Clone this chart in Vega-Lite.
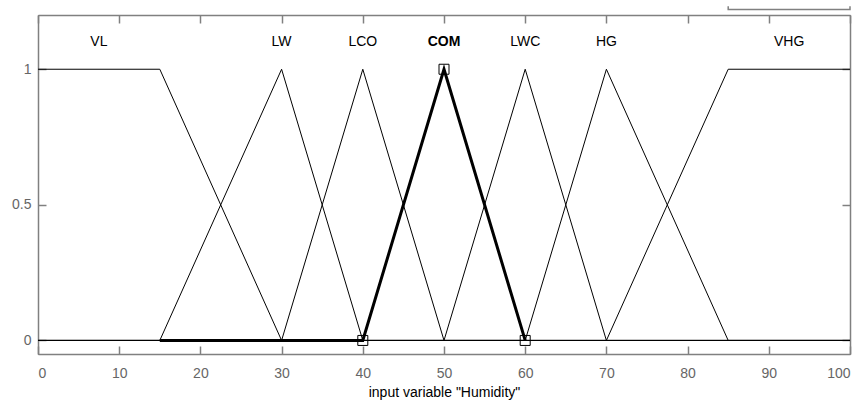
{
  "$schema": "https://vega.github.io/schema/vega-lite/v6.json",
  "width": 812,
  "height": 339,
  "autosize": {"type": "none"},
  "padding": {"left": 38, "top": 15, "right": 12, "bottom": 47},
  "background": "white",
  "config": {
    "view": {"stroke": "#808080", "strokeWidth": 1},
    "font": "Liberation Sans",
    "axis": {
      "domainColor": "#808080",
      "tickColor": "#808080",
      "labelColor": "#666666",
      "labelFont": "Liberation Sans",
      "labelFontSize": 14,
      "titleFont": "Liberation Sans",
      "titleFontSize": 14,
      "titleFontWeight": "normal",
      "titleColor": "#000000",
      "grid": false,
      "tickSize": -8,
      "domainWidth": 1.5,
      "tickWidth": 1.5
    }
  },
  "datasets": {
    "mf": [
      {"mf": "VL", "o": 0, "x": 0, "mu": 1},
      {"mf": "VL", "o": 1, "x": 15, "mu": 1},
      {"mf": "VL", "o": 2, "x": 30, "mu": 0},
      {"mf": "VL", "o": 3, "x": 100, "mu": 0},
      {"mf": "LW", "o": 0, "x": 0, "mu": 0},
      {"mf": "LW", "o": 1, "x": 15, "mu": 0},
      {"mf": "LW", "o": 2, "x": 30, "mu": 1},
      {"mf": "LW", "o": 3, "x": 40, "mu": 0},
      {"mf": "LW", "o": 4, "x": 100, "mu": 0},
      {"mf": "LCO", "o": 0, "x": 0, "mu": 0},
      {"mf": "LCO", "o": 1, "x": 30, "mu": 0},
      {"mf": "LCO", "o": 2, "x": 40, "mu": 1},
      {"mf": "LCO", "o": 3, "x": 50, "mu": 0},
      {"mf": "LCO", "o": 4, "x": 100, "mu": 0},
      {"mf": "LWC", "o": 0, "x": 0, "mu": 0},
      {"mf": "LWC", "o": 1, "x": 50, "mu": 0},
      {"mf": "LWC", "o": 2, "x": 60, "mu": 1},
      {"mf": "LWC", "o": 3, "x": 70, "mu": 0},
      {"mf": "LWC", "o": 4, "x": 100, "mu": 0},
      {"mf": "HG", "o": 0, "x": 0, "mu": 0},
      {"mf": "HG", "o": 1, "x": 60, "mu": 0},
      {"mf": "HG", "o": 2, "x": 70, "mu": 1},
      {"mf": "HG", "o": 3, "x": 85, "mu": 0},
      {"mf": "HG", "o": 4, "x": 100, "mu": 0},
      {"mf": "VHG", "o": 0, "x": 0, "mu": 0},
      {"mf": "VHG", "o": 1, "x": 70, "mu": 0},
      {"mf": "VHG", "o": 2, "x": 85, "mu": 1},
      {"mf": "VHG", "o": 3, "x": 100, "mu": 1}
    ],
    "bold": [
      {"o": 0, "x": 15, "mu": 0},
      {"o": 1, "x": 40, "mu": 0},
      {"o": 2, "x": 50, "mu": 1},
      {"o": 3, "x": 60, "mu": 0}
    ],
    "pts": [
      {"x": 40, "mu": 0},
      {"x": 50, "mu": 1},
      {"x": 60, "mu": 0}
    ],
    "labels": [
      {"mf": "VL", "x": 7.5, "y": 1.1, "sel": false},
      {"mf": "LW", "x": 30, "y": 1.1, "sel": false},
      {"mf": "LCO", "x": 40, "y": 1.1, "sel": false},
      {"mf": "COM", "x": 50, "y": 1.1, "sel": true},
      {"mf": "LWC", "x": 60, "y": 1.1, "sel": false},
      {"mf": "HG", "x": 70, "y": 1.1, "sel": false},
      {"mf": "VHG", "x": 92.5, "y": 1.1, "sel": false}
    ],
    "bracket": [
      {"o": 0, "x": 85, "y": 1.232},
      {"o": 1, "x": 85, "y": 1.22},
      {"o": 2, "x": 100, "y": 1.22},
      {"o": 3, "x": 100, "y": 1.232}
    ]
  },
  "resolve": {"axis": {"x": "independent", "y": "independent"}},
  "layer": [
    {
      "data": {"name": "mf"},
      "mark": {"type": "line", "color": "black", "strokeWidth": 1},
      "encoding": {
        "x": {"field": "x", "type": "quantitative", "scale": {"domain": [0, 100], "nice": false, "zero": false},
              "axis": {"orient": "bottom", "values": [0, 10, 20, 30, 40, 50, 60, 70, 80, 90, 100], "format": "d", "title": "input variable \"Humidity\"", "labelPadding": 20, "titlePadding": 5}},
        "y": {"field": "mu", "type": "quantitative", "scale": {"domain": [-0.05, 1.2], "nice": false, "zero": false},
              "axis": {"orient": "left", "values": [0, 0.5, 1], "format": "~g", "title": null, "labelPadding": 15}},
        "detail": {"field": "mf"},
        "order": {"field": "o"}
      }
    },
    {
      "data": {"name": "bold"},
      "mark": {"type": "line", "color": "black", "strokeWidth": 3},
      "encoding": {
        "x": {"field": "x", "type": "quantitative", "axis": null},
        "y": {"field": "mu", "type": "quantitative", "axis": null},
        "order": {"field": "o"}
      }
    },
    {
      "data": {"name": "pts"},
      "mark": {"type": "square", "filled": false, "color": "black", "size": 100, "strokeWidth": 1, "opacity": 1},
      "encoding": {
        "x": {"field": "x", "type": "quantitative", "axis": null},
        "y": {"field": "mu", "type": "quantitative", "axis": null}
      }
    },
    {
      "data": {"name": "labels"},
      "transform": [{"filter": "!datum.sel"}],
      "mark": {"type": "text", "font": "Liberation Sans", "fontSize": 14, "color": "black", "baseline": "middle", "align": "center"},
      "encoding": {
        "x": {"field": "x", "type": "quantitative", "axis": null},
        "y": {"field": "y", "type": "quantitative", "axis": null},
        "text": {"field": "mf"}
      }
    },
    {
      "data": {"name": "labels"},
      "transform": [{"filter": "datum.sel"}],
      "mark": {"type": "text", "font": "Liberation Sans", "fontSize": 14, "fontWeight": "bold", "color": "black", "baseline": "middle", "align": "center"},
      "encoding": {
        "x": {"field": "x", "type": "quantitative", "axis": null},
        "y": {"field": "y", "type": "quantitative", "axis": null},
        "text": {"field": "mf"}
      }
    },
    {
      "data": {"name": "bracket"},
      "mark": {"type": "line", "color": "#808080", "strokeWidth": 1.5, "clip": false},
      "encoding": {
        "x": {"field": "x", "type": "quantitative", "axis": null},
        "y": {"field": "y", "type": "quantitative", "axis": null},
        "order": {"field": "o"}
      }
    },
    {
      "data": {"name": "pts"},
      "mark": {"type": "point", "opacity": 0},
      "encoding": {
        "x": {"field": "x", "type": "quantitative",
              "axis": {"orient": "top", "values": [0, 10, 20, 30, 40, 50, 60, 70, 80, 90, 100], "labels": false, "title": null}},
        "y": {"field": "mu", "type": "quantitative",
              "axis": {"orient": "right", "values": [0, 0.5, 1], "labels": false, "title": null}}
      }
    }
  ]
}
